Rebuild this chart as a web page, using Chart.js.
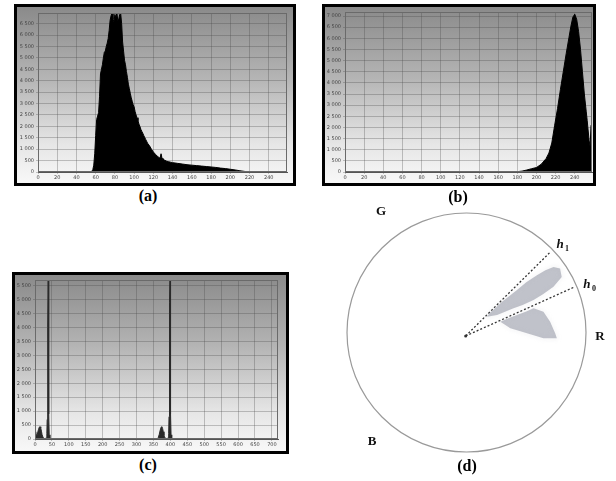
<!DOCTYPE html>
<html>
<head>
<meta charset="utf-8">
<script src="https://cdn.jsdelivr.net/npm/chart.js@4.4.1/dist/chart.umd.min.js"></script>
<style>
  body { margin: 0; width: 616px; height: 481px; background: #fff; position: relative; overflow: hidden; }
  .panel { position: absolute; box-sizing: border-box; border: 3px solid #000;
    background: linear-gradient(to bottom, #8a8a8a 0%, #b4b4b4 40%, #e6e6e6 78%, #f8f8f8 100%); }
  .panel canvas { position: absolute; left: 0; top: 0; }
  .cap { position: absolute; font: bold 16px "Liberation Serif", "DejaVu Serif", serif; color: #000;
    transform: translateX(-50%); white-space: nowrap; }
  #hue { position: absolute; left: 330px; top: 200px; }
</style>
</head>
<body>
<div class="panel" style="left:14px;top:4px;width:282px;height:182px"><canvas id="histA" width="276" height="176"></canvas></div>
<div class="panel" style="left:322px;top:4px;width:274px;height:182px"><canvas id="histB" width="268" height="176"></canvas></div>
<div class="panel" style="left:12px;top:272px;width:277px;height:182px"><canvas id="histC" width="271" height="176"></canvas></div>
<canvas id="hue" width="286" height="262"></canvas>
<div class="cap" style="left:148px;top:187px">(a)</div>
<div class="cap" style="left:458px;top:188px">(b)</div>
<div class="cap" style="left:148px;top:456px">(c)</div>
<div class="cap" style="left:467px;top:457px">(d)</div>
<script>
// --- histogram (a): grey level counts ---
const binsA = [54,56,57,58,59,60,61,62,63,64,65,66,67,68,69,70,71,72,73,74,75,76,77,78,79,80,81,82,83,84,85,86,87,88,89,90,91,92,93,94,95,96,97,98,99,100,101,102,103,104,105,106,107,108,109,110,112,114,116,118,120,122,124,126,127,128,129,130,132,134,136,138,140,145,150,155,160,165,170,175,180,185,190,195,200,205,210,215,220];
const countsA = [0,30,100,300,800,1600,2300,2450,2600,3300,4300,4500,4700,5000,5250,5300,5500,5650,5850,6200,6650,6850,6950,6700,6600,6900,6750,6980,6650,6700,6900,6950,6500,5700,5300,4900,4700,4400,4150,3850,3650,3450,3250,3100,2950,2850,2650,2500,2380,2250,2100,2000,1870,1780,1700,1600,1430,1260,1150,1000,880,780,700,630,610,800,600,560,510,470,450,430,410,380,350,320,300,280,260,240,220,200,170,150,120,90,55,25,0];

// --- histogram (b) ---
const binsB = [170,180,185,190,195,200,205,210,213,216,219,222,225,228,231,234,236,238,240,242,244,246,248,250,252,253,255,256,257];
const countsB = [0,15,40,90,150,200,350,600,850,1300,2100,2850,3700,4500,5300,6050,6550,6950,7080,6850,6300,5500,4500,3500,2700,2300,1400,1150,2100];

// --- histogram (c): hue, two periods ---
const binsC = [0,2,4,7,10,13,15,17,19,21,24,28,33,35,36,37,38,39,40,41,42,44,360,364,367,370,373,375,377,379,381,384,388,393,395,396,397,398,399,400,401,402,404,720];
const countsC = [0,260,120,180,330,430,440,390,280,150,50,10,30,200,700,2500,4000,5800,3800,900,150,0,0,40,160,320,430,440,380,260,120,40,10,30,200,800,3000,4900,5800,4200,900,150,0,0];

// --- (d) hue circle ---
const origin = [-0.007, -0.029];
const h1End = [0.699, 0.671];
const h0End = [0.908, 0.383];
const upperCloudX = [0.172,0.19,0.30,0.42,0.50,0.589,0.66,0.728,0.783,0.797,0.728,0.64,0.561,0.47,0.394,0.256,0.172];
const upperCloudY = [0.132,0.16,0.26,0.354,0.42,0.479,0.52,0.549,0.535,0.465,0.382,0.32,0.271,0.23,0.202,0.146,0.132];
const lowerCloudX = [0.283,0.35,0.422,0.50,0.561,0.644,0.70,0.742,0.756,0.644,0.506,0.367,0.283];
const lowerCloudY = [0.090,0.12,0.146,0.176,0.202,0.174,0.090,-0.007,-0.048,-0.048,-0.007,0.035,0.090];
const hueLabels = ['G', 'R', 'B'];
const hueLabelX = [-0.715, 1.117, -0.791];
const hueLabelY = [1.008, -0.038, -0.916];

function fmt(v) {
  return v >= 1000 ? Math.floor(v / 1000) + ' ' + String(v % 1000).padStart(3, '0') : String(v);
}

// ticks every `step` from 0 up to the axis max (Chart.js would otherwise even them out)
function stepTicks(step) {
  return s => {
    const t = [];
    for (let v = 0; v <= s.max + 1e-9; v += step) t.push({ value: v });
    s.ticks = t;
  };
}

const frame = {
  id: 'frame',
  afterDraw(chart) {
    const a = chart.chartArea, ctx = chart.ctx;
    ctx.save();
    ctx.strokeStyle = '#6a6a6a';
    ctx.lineWidth = 1;
    ctx.strokeRect(a.left + 0.5, a.top + 0.5, a.right - a.left - 1, a.bottom - a.top - 1);
    ctx.restore();
  }
};

function makeHist(id, bins, counts, o) {
  const el = document.getElementById(id);
  new Chart(el, {
    type: 'line',
    data: {
      datasets: [{
        data: bins.map((b, i) => ({ x: b, y: counts[i] })),
        fill: 'origin',
        backgroundColor: o.color,
        borderColor: o.color,
        borderWidth: 1,
        pointRadius: 0,
        tension: 0
      }]
    },
    options: {
      responsive: false,
      animation: false,
      layout: { padding: { left: 0, top: o.top, right: o.right, bottom: 0 } },
      plugins: { legend: { display: false }, tooltip: { enabled: false } },
      scales: {
        x: {
          type: 'linear', min: 0, max: o.xmax,
          afterBuildTicks: stepTicks(o.xstep),
          ticks: { autoSkip: false, maxRotation: 0,
                   font: { size: 5, family: 'DejaVu Sans' }, color: '#444', padding: 1 },
          grid: { color: 'rgba(70,70,70,0.3)', tickLength: 2 },
          border: { color: '#555' },
          afterFit: s => { s.height = o.xh; }
        },
        y: {
          min: 0, max: o.ymax,
          afterBuildTicks: stepTicks(500),
          ticks: { autoSkip: false, callback: fmt,
                   font: { size: 5, family: 'DejaVu Sans' }, color: '#444', padding: 2 },
          grid: { color: 'rgba(70,70,70,0.3)', tickLength: 2 },
          border: { color: '#666' },
          afterFit: s => { s.width = o.yw; }
        }
      }
    },
    plugins: [frame]
  });
}

makeHist('histA', binsA, countsA, { color: '#000', xmax: 259, xstep: 20, ymax: 6970, top: 6, right: 6, xh: 11, yw: 21 });
makeHist('histB', binsB, countsB, { color: '#000', xmax: 258, xstep: 20, ymax: 7180, top: 5, right: 1, xh: 11, yw: 20 });
makeHist('histC', binsC, countsC, { color: '#2a2a2a', xmax: 718, xstep: 50, ymax: 5700, top: 4, right: 8, xh: 12, yw: 20 });

// hue circle, labels and soft cloud rendering
const hueDecor = {
  id: 'hueDecor',
  beforeDatasetsDraw(chart) {
    const xs = chart.scales.x, ys = chart.scales.y, ctx = chart.ctx;
    const cx = xs.getPixelForValue(0), cy = ys.getPixelForValue(0);
    const r = xs.getPixelForValue(1) - cx;
    ctx.save();
    ctx.strokeStyle = '#9a9a9a';
    ctx.lineWidth = 1.2;
    ctx.beginPath();
    ctx.arc(cx, cy, r, 0, Math.PI * 2);
    ctx.stroke();
    ctx.restore();
  },
  beforeDatasetDraw(chart, args) {
    if (args.index < 2) { chart.ctx.save(); chart.ctx.filter = 'blur(2px)'; }
  },
  afterDatasetDraw(chart, args) {
    if (args.index < 2) chart.ctx.restore();
  },
  afterDraw(chart) {
    const xs = chart.scales.x, ys = chart.scales.y, ctx = chart.ctx;
    ctx.save();
    ctx.fillStyle = '#111';
    ctx.textAlign = 'center';
    ctx.textBaseline = 'middle';
    ctx.font = 'bold 13px "Liberation Serif", serif';
    hueLabels.forEach((t, i) => ctx.fillText(t, xs.getPixelForValue(hueLabelX[i]), ys.getPixelForValue(hueLabelY[i])));
    const hl = [['1', 0.808, 0.732], ['0', 1.033, 0.397]];
    hl.forEach(([s, x, y]) => {
      const px = xs.getPixelForValue(x), py = ys.getPixelForValue(y);
      ctx.font = 'italic bold 13px "Liberation Serif", serif';
      ctx.fillText('h', px - 3, py);
      ctx.font = 'bold 8px "Liberation Serif", serif';
      ctx.fillText(s, px + 4, py + 4);
    });
    ctx.restore();
  }
};

new Chart(document.getElementById('hue'), {
  type: 'scatter',
  data: {
    datasets: [
      { data: upperCloudX.map((x, i) => ({ x, y: upperCloudY[i] })), showLine: true, fill: 'shape',
        backgroundColor: 'rgba(150,153,166,0.6)', borderColor: 'rgba(170,172,182,0.4)', borderWidth: 1, pointRadius: 0 },
      { data: lowerCloudX.map((x, i) => ({ x, y: lowerCloudY[i] })), showLine: true, fill: 'shape',
        backgroundColor: 'rgba(150,153,166,0.6)', borderColor: 'rgba(170,172,182,0.4)', borderWidth: 1, pointRadius: 0 },
      { data: [{ x: origin[0], y: origin[1] }, { x: h1End[0], y: h1End[1] }], showLine: true, borderColor: '#333',
        borderWidth: 1.3, borderDash: [2, 2], pointRadius: 0 },
      { data: [{ x: origin[0], y: origin[1] }, { x: h0End[0], y: h0End[1] }], showLine: true, borderColor: '#333',
        borderWidth: 1.3, borderDash: [2, 2], pointRadius: 0 },
      { data: [{ x: origin[0], y: origin[1] }], pointRadius: 1.5, backgroundColor: '#333', borderWidth: 0 }
    ]
  },
  options: {
    responsive: false,
    animation: false,
    layout: { padding: 0, autoPadding: false },
    plugins: { legend: { display: false }, tooltip: { enabled: false } },
    scales: {
      x: { type: 'linear', display: false, min: -1.1423, max: 1.2510 },
      y: { type: 'linear', display: false, min: -1.0837, max: 1.1088 }
    }
  },
  plugins: [hueDecor]
});
</script>
</body>
</html>
